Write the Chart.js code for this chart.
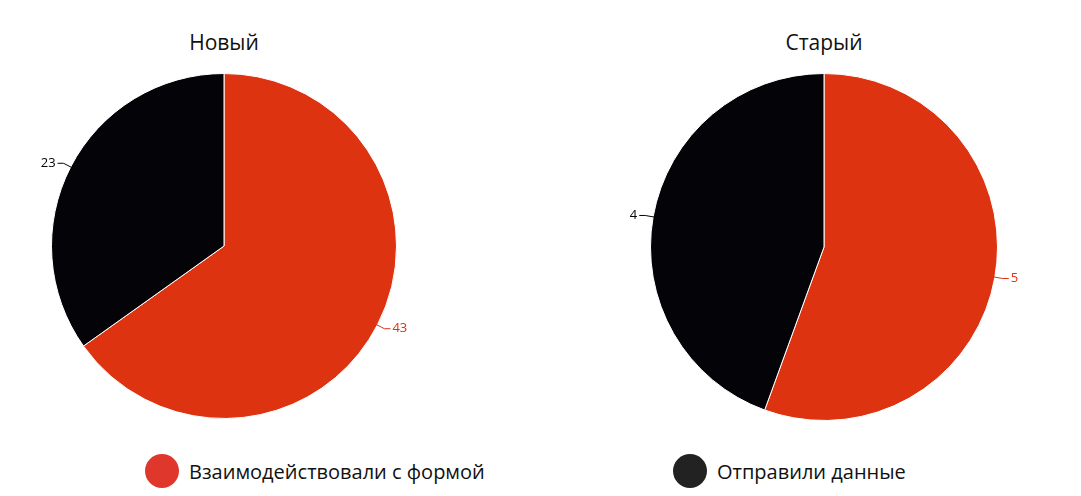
<!DOCTYPE html>
<html lang="ru">
<head>
<meta charset="UTF-8">
<title>Новый / Старый</title>
<script src="https://cdn.jsdelivr.net/npm/chart.js"></script>
<style>
  body { margin: 0; background: #fff; font-family: 'Open Sans', sans-serif; width: 1081px; height: 496px; position: relative; overflow: hidden; }
  .title { position: absolute; top: 28px; width: 448px; text-align: center; font-size: 21px; color: #111; }
  .box { position: absolute; top: 53px; width: 448px; }
  .leg { position: absolute; top: 454px; display: flex; align-items: center; font-size: 20px; color: #111; }
  .dot { width: 34px; height: 34px; border-radius: 50%; margin-right: 10px; }
</style>
</head>
<body>
<div class="title" style="left:0">Новый</div>
<div class="title" style="left:600px">Старый</div>
<div class="box" style="left:0;height:386px"><canvas id="c1"></canvas></div>
<div class="box" style="left:600px;height:388px"><canvas id="c2"></canvas></div>
<div class="leg" style="left:145px"><div class="dot" style="background:#e0372c"></div><span id="l1"></span></div>
<div class="leg" style="left:673px"><div class="dot" style="background:#222"></div><span id="l2"></span></div>

<script>
  const seriesNames = ['Взаимодействовали с формой', 'Отправили данные'];
  const newValues = [43, 23];
  const oldValues = [5, 4];
  const colors = ['#dd3311', '#040308'];

  document.getElementById('l1').textContent = seriesNames[0];
  document.getElementById('l2').textContent = seriesNames[1];

  const outLabels = {
    id: 'outLabels',
    afterDatasetsDraw(chart) {
      const ctx = chart.ctx;
      const meta = chart.getDatasetMeta(0);
      meta.data.forEach((arc, i) => {
        const a = (arc.startAngle + arc.endAngle) / 2;
        const r = arc.outerRadius;
        const cx = arc.x, cy = arc.y;
        const col = colors[i];
        ctx.save();
        ctx.strokeStyle = col;
        ctx.lineWidth = 1;
        ctx.beginPath();
        ctx.moveTo(cx + Math.cos(a) * (r - 4), cy + Math.sin(a) * (r - 4));
        ctx.lineTo(cx + Math.cos(a) * (r + 8), cy + Math.sin(a) * (r + 8));
        const ex = cx + Math.cos(a) * (r + 8) + (Math.cos(a) >= 0 ? 6 : -6);
        ctx.lineTo(ex, cy + Math.sin(a) * (r + 8));
        ctx.stroke();
        ctx.fillStyle = col;
        ctx.font = '13px "Open Sans", sans-serif';
        ctx.textBaseline = 'middle';
        ctx.textAlign = Math.cos(a) >= 0 ? 'left' : 'right';
        ctx.fillText(chart.data.datasets[0].data[i], ex + (Math.cos(a) >= 0 ? 2 : -2), cy + Math.sin(a) * (r + 8));
        ctx.restore();
      });
    }
  };

  function makePie(id, values) {
    new Chart(document.getElementById(id), {
      type: 'pie',
      data: {
        labels: seriesNames,
        datasets: [{ data: values, backgroundColor: colors, borderColor: '#fff', borderWidth: 1 }]
      },
      options: {
        responsive: true,
        maintainAspectRatio: false,
        animation: false,
        layout: { padding: { top: 20, bottom: 20 } },
        plugins: { legend: { display: false }, tooltip: { enabled: false } }
      },
      plugins: [outLabels]
    });
  }

  makePie('c1', newValues);
  makePie('c2', oldValues);
</script>
</body>
</html>
